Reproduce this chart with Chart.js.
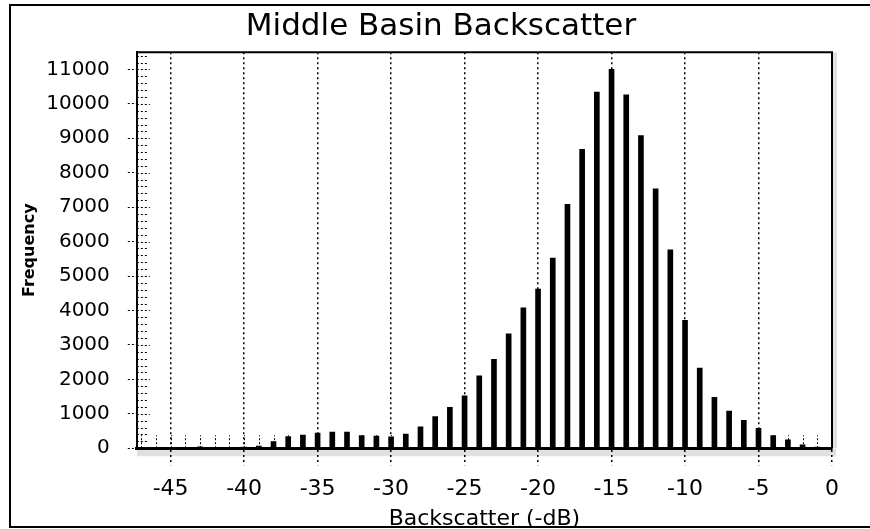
<!DOCTYPE html>
<html>
<head>
<meta charset="utf-8">
<script src="https://cdn.jsdelivr.net/npm/chart.js@4.4.1/dist/chart.umd.min.js"></script>
<style>
  html, body { margin: 0; padding: 0; background: #fff; }
  #wrap { width: 870px; height: 529px; }
</style>
</head>
<body>
<div id="wrap"><canvas id="backscatterChart" width="870" height="529"></canvas></div>
<script>
// backscatter bins (-dB) and counts
const bins = [-46, -45, -44, -43, -42, -41, -40, -39, -38, -37, -36, -35, -34, -33, -32, -31,
  -30, -29, -28, -27, -26, -25, -24, -23, -22, -21, -20, -19, -18, -17, -16, -15,
  -14, -13, -12, -11, -10, -9, -8, -7, -6, -5, -4, -3, -2, -1, 0];
const counts = [0, 10, 10, 40, 10, 10, 30, 60, 190, 340, 380, 440, 470, 470, 370, 350,
  330, 410, 620, 920, 1190, 1520, 2100, 2580, 3320, 4080, 4620, 5520, 7080, 8680, 10340, 11000,
  10260, 9080, 7530, 5760, 3710, 2330, 1480, 1080, 810, 580, 370, 240, 100, 30, 10];

const xTicks = [-45, -40, -35, -30, -25, -20, -15, -10, -5, 0];
const yTicks = [0, 1000, 2000, 3000, 4000, 5000, 6000, 7000, 8000, 9000, 10000, 11000];

const fontFamily = "'DejaVu Sans', Verdana, sans-serif";

// frame, plot box, minor ticks and the grey smudge under the axis
const decorations = {
  id: "decorations",
  beforeDraw(chart) {
    const ctx = chart.ctx;
    ctx.save();
    ctx.strokeStyle = "#000";
    ctx.lineWidth = 2;
    ctx.strokeRect(10, 5, 870, 522);
    ctx.restore();
  },
  beforeDatasetsDraw(chart) {
    const { ctx, chartArea, scales } = chart;
    ctx.save();
    ctx.strokeStyle = "#000";
    ctx.lineWidth = 1;
    ctx.setLineDash([2, 2]);
    // little dotted stubs at every bin
    for (let v = -47; v <= 0; v++) {
      const x = Math.round(scales.x.getPixelForValue(v)) + 0.5;
      if (x < chartArea.left + 2) continue;
      ctx.beginPath();
      ctx.moveTo(x, chartArea.bottom);
      ctx.lineTo(x, chartArea.bottom - 13);
      ctx.stroke();
    }
    // minor ticks on the inside of the y axis
    for (let v = 0; v <= 11400; v += 200) {
      const y = Math.round(scales.y.getPixelForValue(v)) + 0.5;
      const len = v % 1000 === 0 ? 13 : 10;
      ctx.beginPath();
      ctx.moveTo(chartArea.left, y);
      ctx.lineTo(chartArea.left + len, y);
      ctx.stroke();
    }
    ctx.restore();
  },
  afterDraw(chart) {
    const { ctx, chartArea } = chart;
    ctx.save();
    ctx.fillStyle = "rgba(0,0,0,0.12)";
    ctx.fillRect(chartArea.left, chartArea.bottom + 1, chartArea.right - chartArea.left + 4, 7);
    ctx.fillRect(chartArea.right + 1, chartArea.top, 4, chartArea.bottom - chartArea.top);
    ctx.strokeStyle = "#000";
    ctx.lineWidth = 2;
    ctx.beginPath();
    ctx.moveTo(chartArea.left, chartArea.top);
    ctx.lineTo(chartArea.right, chartArea.top);
    ctx.lineTo(chartArea.right, chartArea.bottom);
    ctx.stroke();
    ctx.restore();
  },
};

const data = {
  datasets: [
    {
      label: "Frequency",
      data: bins.map((b, i) => ({ x: b, y: counts[i] })),
      backgroundColor: "#000",
      borderWidth: 0,
      barThickness: 5,
    },
  ],
};

const config = {
  type: "bar",
  data: data,
  options: {
    responsive: false,
    animation: false,
    layout: { padding: { top: 8, left: 12, right: 0, bottom: 0 } },
    plugins: {
      legend: { display: false },
      tooltip: { enabled: false },
      title: {
        display: true,
        text: "Middle Basin Backscatter",
        color: "#000",
        font: { family: fontFamily, size: 31, weight: "normal" },
        padding: { top: 0, bottom: 7 },
      },
    },
    scales: {
      x: {
        type: "linear",
        min: -47.3,
        max: 0,
        offset: false,
        afterBuildTicks: (scale) => {
          scale.ticks = xTicks.map((v) => ({ value: v }));
        },
        grid: {
          offset: false,
          color: "#000",
          lineWidth: 1.5,
          tickWidth: 1.5,
          tickBorderDash: [2, 3],
          tickColor: "#000",
          tickLength: 17,
        },
        border: { display: true, color: "#000", width: 3, dash: [2, 3] },
        ticks: {
          color: "#000",
          padding: 11,
          maxRotation: 0,
          font: { family: fontFamily, size: 22 },
        },
        title: {
          display: true,
          text: "Backscatter (-dB)",
          color: "#000",
          font: { family: fontFamily, size: 22 },
          padding: { top: -8, bottom: -3 },
        },
      },
      y: {
        type: "linear",
        min: 0,
        max: 11500,
        afterBuildTicks: (scale) => {
          scale.ticks = yTicks.map((v) => ({ value: v }));
        },
        grid: {
          drawOnChartArea: false,
          tickColor: "#000",
          tickBorderDash: [2, 2],
          tickLength: 9,
        },
        border: { display: true, color: "#000", width: 2 },
        ticks: {
          color: "#000",
          padding: 18,
          font: { family: fontFamily, size: 20 },
          callback: (v) => String(v),
        },
        title: {
          display: true,
          text: "Frequency",
          color: "#000",
          font: { family: fontFamily, size: 16, weight: "bold" },
          padding: { top: 8, bottom: -11 },
        },
      },
      // empty strip on the right so the title centres on the whole frame
      yRight: {
        type: "linear",
        position: "right",
        display: true,
        grid: { display: false },
        border: { display: false },
        ticks: { display: false },
        afterFit: (scale) => {
          scale.width = 38;
        },
      },
    },
  },
  plugins: [decorations],
};

const backscatterChart = new Chart(document.getElementById("backscatterChart"), config);
</script>
</body>
</html>
